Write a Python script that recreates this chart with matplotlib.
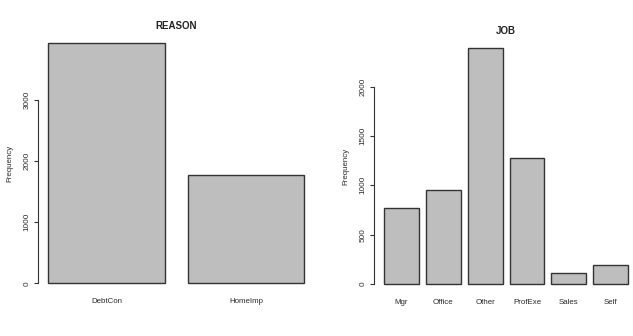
import matplotlib
matplotlib.use("Agg")
import matplotlib.pyplot as plt

plt.rcParams["font.family"] = ["Liberation Sans", "DejaVu Sans"]

reason_labels = ["DebtCon", "HomeImp"]
reason_counts = [3928, 1780]
reason_ticks = [0, 1000, 2000, 3000]

job_labels = ["Mgr", "Office", "Other", "ProfExe", "Sales", "Self"]
job_counts = [767, 948, 2388, 1276, 109, 193]
job_ticks = [0, 500, 1000, 1500, 2000]


def r_barplot(ax, labels, counts, ticks, title):
    # mimic R barplot: width 1, space 0.2, 4% axis extension
    n = len(counts)
    centers = [0.2 + i * 1.2 + 0.5 for i in range(n)]
    ax.bar(centers, counts, width=1.0, color="#bebebe", edgecolor="#333333", linewidth=1.0)
    x0, x1 = 0.2, 0.2 + n * 1.2 - 0.2
    xext = 0.04 * (x1 - x0)
    ax.set_xlim(x0 - xext, x1 + xext)
    yext = 0.04 * max(counts)
    ax.set_ylim(-yext, max(counts) + yext)

    ax.set_xticks(centers)
    ax.set_xticklabels(labels, fontsize=5.7, color="#2a2a2a")
    ax.tick_params(axis="x", length=0, pad=4)

    ax.set_yticks(ticks)
    ax.set_yticklabels([str(t) for t in ticks], fontsize=5.9, color="#2a2a2a", rotation=90, va="center")
    ax.tick_params(axis="y", length=3, width=0.8, direction="out", pad=2.5, color="#333333")

    for side in ["top", "right", "bottom"]:
        ax.spines[side].set_visible(False)
    ax.spines["left"].set_bounds(ticks[0], ticks[-1])
    ax.spines["left"].set_linewidth(0.8)
    ax.spines["left"].set_color("#333333")

    ax.set_ylabel("Frequency", fontsize=5.7, color="#2a2a2a", labelpad=7.5)
    ax.set_title(title, fontsize=7, fontweight="bold", pad=3.5, color="#222222")


fig = plt.figure(figsize=(6.33, 3.36), dpi=100)
ax1 = fig.add_axes([0.0602, 0.1283, 0.437, 0.7714])
ax2 = fig.add_axes([0.5912, 0.1268, 0.4167, 0.7574])

r_barplot(ax1, reason_labels, reason_counts, reason_ticks, "REASON")
r_barplot(ax2, job_labels, job_counts, job_ticks, "JOB")

fig.savefig("out.png", dpi=100)
